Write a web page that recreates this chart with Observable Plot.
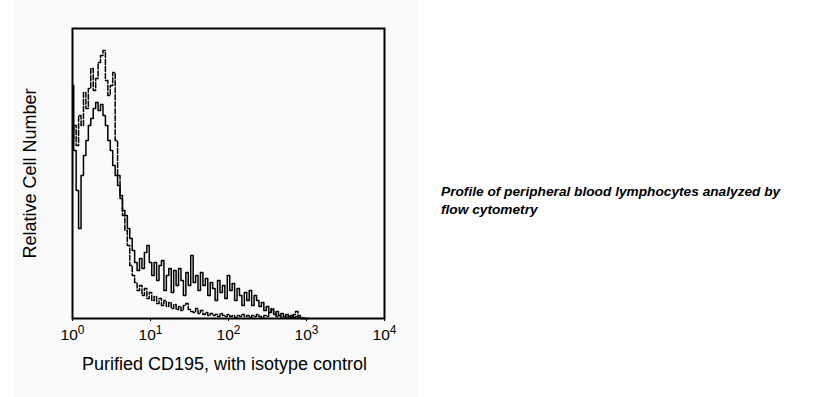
<!DOCTYPE html>
<html>
<head>
<meta charset="utf-8">
<script src="https://cdn.jsdelivr.net/npm/d3@7"></script>
<script src="https://cdn.jsdelivr.net/npm/@observablehq/plot@0.6"></script>
<style>
  html, body { margin: 0; padding: 0; background: #ffffff; }
  body { width: 823px; height: 397px; position: relative; overflow: hidden; font-family: "Liberation Sans", Arial, sans-serif; }
  #panel { position: absolute; left: 15px; top: 0; width: 404px; height: 397px; background: #fafafa; }
  #caption { position: absolute; left: 441px; top: 183px; width: 350px; font-size: 13.7px; line-height: 18px; font-weight: bold; font-style: italic; color: #000; }
</style>
</head>
<body>
<div id="panel"></div>
<div id="caption">Profile of peripheral blood lymphocytes analyzed by flow cytometry</div>
<script>
// Histogram counts (relative cell number) per channel, channels 0,2,4,... of 256 (4 decades)
const cd195Counts = [233,168,128,90,143,163,178,193,200,210,216,208,214,203,193,178,168,153,143,133,
  120,108,103,90,80,68,56,48,60,50,66,73,56,43,56,38,53,58,28,43,
  50,26,48,33,50,38,23,46,33,63,36,43,28,46,33,40,23,36,30,18,
  38,26,33,20,43,28,35,18,30,23,13,26,18,28,13,23,18,12,16,8,
  12,6,9,4,7,3,5,2,4,2,3,1,2,1,0,0,0,0];
const isotypeCounts = [180,193,173,203,193,226,210,230,250,228,240,256,263,268,238,223,233,246,178,143,
  123,103,88,73,53,43,36,28,33,23,30,20,26,18,22,15,20,13,18,12,
  16,10,14,9,12,8,13,15,9,7,6,10,5,8,4,6,3,5,3,4,
  2,5,3,2,4,2,3,1,3,2,4,2,3,1,3,2,4,2,1,3,
  2,6,10,5,2,3,1,2,1,2,1,4,7,3,1,0,0,0];
const channelStep = 2;
const channelsPerDecade = 64;
const tickValues = [1, 10, 100, 1000, 10000];
const tickExponents = ["0", "1", "2", "3", "4"];
const xLabel = "Purified CD195, with isotype control";
const yLabel = "Relative Cell Number";

const toRows = (arr, series) => arr.map((v, i) => ({
  fl: Math.pow(10, (i * channelStep) / channelsPerDecade),
  count: v,
  series
}));
const solid = toRows(cd195Counts, "CD195");
const dashed = toRows(isotypeCounts, "Isotype");

const chart = Plot.plot({
  width: 404,
  height: 397,
  marginLeft: 57,
  marginRight: 35,
  marginTop: 28,
  marginBottom: 79,
  style: { background: "transparent", fontFamily: "Liberation Sans, Arial, sans-serif", color: "#000" },
  x: { type: "log", domain: [1, 10000] },
  y: { domain: [0, 290], axis: null },
  marks: [
    Plot.line(dashed, { x: "fl", y: "count", curve: "step", stroke: "#000", strokeWidth: 1.5, strokeDasharray: "5,2" }),
    Plot.line(solid, { x: "fl", y: "count", curve: "step", stroke: "#000", strokeWidth: 1.5 }),
    Plot.frame({ stroke: "#000", strokeWidth: 2 }),
    Plot.axisX({ ticks: tickValues, tickSize: 3, tickPadding: 7, fontSize: 15.5, label: null,
      tickFormat: (d) => "10^" + tickExponents[tickValues.indexOf(d)] }),
    Plot.text([xLabel], { frameAnchor: "bottom", dy: 51, dx: -4, fontSize: 18, fill: "#000" }),
    Plot.text([yLabel], { frameAnchor: "left", textAnchor: "middle", rotate: -90, dx: -42, fontSize: 18, fill: "#000" })
  ]
});

// Render exponents as raised superscripts
d3.select(chart).selectAll("g[aria-label='x-axis tick label'] text").each(function() {
  const t = this.textContent;
  const parts = t.split("^");
  if (parts.length === 2) {
    const sel = d3.select(this);
    sel.text(null);
    sel.append("tspan").text(parts[0]);
    sel.append("tspan").attr("dy", "-0.45em").attr("font-size", "12px").text(parts[1]);
  }
});

chart.style.position = "absolute";
chart.style.left = "15px";
chart.style.top = "0px";
document.body.appendChild(chart);
</script>
</body>
</html>
